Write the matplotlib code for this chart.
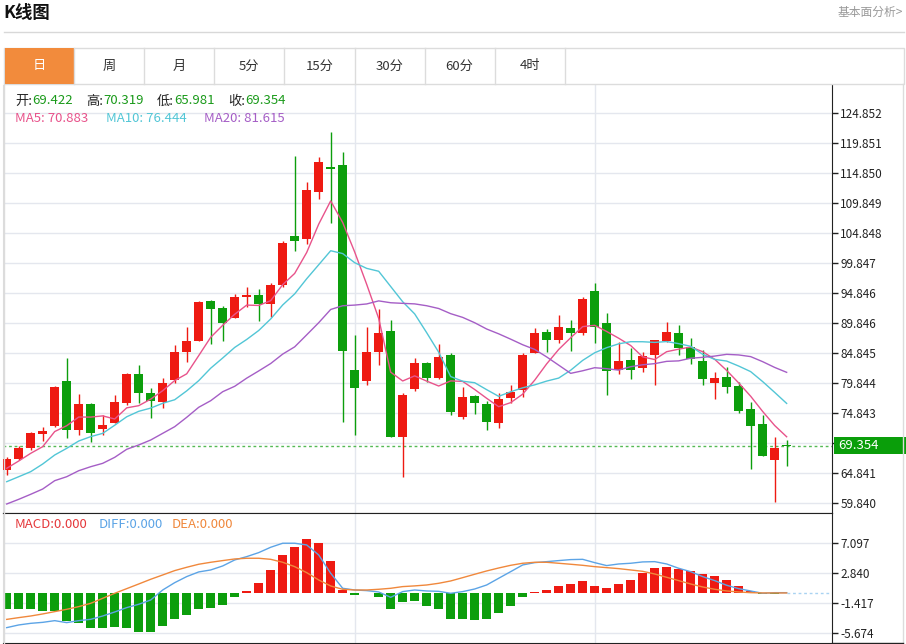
import matplotlib
matplotlib.use("Agg")
import matplotlib.pyplot as plt
from matplotlib.patches import Rectangle
from matplotlib.lines import Line2D
from matplotlib.transforms import blended_transform_factory

plt.rcParams['font.family'] = ['Noto Sans CJK SC', 'DejaVu Sans']

# daily candles
opens = [65.34, 67.17, 68.95, 71.34, 72.68, 80.18, 72.01, 76.34, 72.12, 73.22,
         76.56, 81.29, 78.23, 76.73, 80.34, 85.07, 86.89, 93.51, 92.29, 90.73,
         94.23, 94.56, 92.96, 96.18, 104.40, 103.85, 111.73, 115.90, 116.18, 82.01,
         80.18, 85.06, 88.56, 70.79, 78.89, 83.12, 80.62, 84.46, 74.23, 77.68,
         76.29, 73.13, 77.29, 78.68, 84.90, 88.29, 87.01, 88.96, 88.23, 95.23,
         89.89, 82.01, 83.68, 82.29, 84.51, 86.90, 88.13, 85.79, 83.56, 79.89,
         80.79, 79.34, 75.46, 73.01, 67.01, 69.422]
highs = [67.56, 69.34, 71.60, 72.56, 79.34, 83.96, 78.01, 76.46, 74.51, 77.84,
         81.46, 82.79, 78.96, 80.62, 86.18, 89.13, 93.51, 93.68, 92.68, 94.63,
         95.79, 95.46, 96.56, 103.45, 117.68, 113.40, 117.47, 121.63, 118.40, 87.85,
         89.13, 92.13, 90.34, 78.12, 83.96, 83.39, 86.29, 84.79, 79.23, 77.84,
         76.85, 78.23, 79.51, 84.79, 88.96, 88.85, 91.18, 90.34, 94.23, 96.46,
         91.46, 86.73, 85.63, 85.06, 87.01, 90.06, 89.51, 87.29, 85.35, 81.73,
         82.46, 80.06, 76.73, 74.51, 70.79, 70.319]
lows = [64.50, 67.00, 68.70, 70.23, 72.46, 70.62, 71.17, 70.06, 71.17, 73.13,
        76.17, 76.46, 73.96, 75.62, 79.90, 83.39, 86.89, 86.34, 86.89, 90.60,
        92.56, 90.18, 90.90, 95.90, 101.90, 103.01, 110.50, 106.47, 73.39, 71.17,
        79.51, 82.84, 70.79, 64.12, 78.56, 80.06, 80.45, 74.51, 73.79, 74.68,
        72.01, 72.29, 76.56, 77.56, 84.79, 84.96, 86.56, 85.23, 87.85, 86.56,
        77.84, 81.34, 80.45, 81.73, 79.51, 86.62, 84.51, 82.96, 79.51, 77.13,
        78.23, 74.90, 65.45, 67.72, 60.00, 65.981]
closes = [67.17, 69.06, 71.46, 71.84, 79.23, 72.01, 76.29, 71.45, 72.84, 76.62,
          81.29, 78.12, 76.89, 79.89, 85.06, 86.89, 93.29, 92.18, 89.89, 94.23,
          94.56, 93.01, 96.18, 103.23, 103.57, 112.01, 116.63, 115.57, 85.23, 78.96,
          85.06, 88.23, 70.79, 77.84, 83.23, 80.73, 84.13, 75.01, 77.46, 76.46,
          73.39, 77.13, 78.39, 84.51, 88.13, 87.01, 89.13, 88.13, 93.79, 89.23,
          81.89, 83.51, 82.01, 84.35, 87.01, 88.40, 85.63, 83.79, 80.45, 80.73,
          79.12, 75.23, 72.68, 67.72, 69.06, 69.354]

ma5 = [65.62, 66.84, 68.12, 69.23, 71.75, 72.72, 74.17, 74.16, 74.36, 73.84,
       75.70, 76.06, 77.15, 78.56, 80.25, 81.37, 84.40, 87.46, 89.46, 91.30,
       92.83, 92.77, 93.57, 96.24, 98.11, 101.60, 106.32, 110.20, 106.60, 101.68,
       96.29, 90.61, 81.65, 80.18, 81.03, 80.16, 79.34, 80.19, 80.11, 78.76,
       77.29, 75.89, 76.57, 77.98, 80.31, 83.03, 85.43, 87.38, 89.24, 89.46,
       88.43, 87.31, 86.09, 84.20, 83.75, 85.06, 85.48, 85.84, 85.06, 83.80,
       81.94, 79.86, 77.64, 75.10, 72.76, 70.88]
ma10 = [63.39, 64.22, 65.06, 66.34, 67.84, 68.95, 70.17, 70.90, 71.45, 72.80,
        74.21, 75.12, 75.66, 76.46, 77.05, 78.53, 80.23, 82.31, 84.01, 85.77,
        87.10, 88.59, 90.52, 92.85, 94.70, 97.22, 99.55, 101.89, 101.42, 99.90,
        98.95, 98.47, 95.93, 93.39, 91.36, 88.23, 84.98, 80.92, 80.14, 79.89,
        78.73, 77.62, 78.38, 79.04, 79.53, 80.16, 80.66, 81.97, 83.61, 84.88,
        85.73, 86.37, 86.73, 86.72, 86.61, 86.75, 86.40, 85.96, 84.63, 83.78,
        83.50, 82.67, 81.74, 80.08, 78.28, 76.44]
ma20 = [59.67, 60.45, 61.29, 62.17, 63.56, 64.22, 65.22, 65.89, 66.45, 67.45,
        68.79, 69.51, 70.34, 71.45, 72.56, 74.12, 75.79, 76.89, 78.39, 79.29,
        80.65, 81.85, 83.09, 84.66, 85.87, 87.87, 89.89, 92.10, 92.72, 92.83,
        93.02, 93.53, 93.22, 93.12, 93.03, 92.72, 92.26, 91.40, 90.78, 89.89,
        88.84, 88.04, 87.15, 86.22, 85.44, 84.19, 82.82, 81.45, 81.88, 82.39,
        82.23, 81.99, 82.56, 82.88, 83.07, 83.45, 83.53, 83.97, 84.12, 84.33,
        84.62, 84.52, 84.24, 83.40, 82.44, 81.62]

macd = [-2.27, -2.27, -2.22, -2.46, -2.51, -3.88, -4.16, -4.97, -4.97, -4.82,
        -4.87, -5.44, -5.44, -4.64, -3.69, -3.03, -2.22, -2.13, -1.70, -0.57,
        0.28, 1.47, 3.36, 5.39, 6.57, 7.71, 7.10, 4.64, 0.43, -0.19,
        0.10, -0.52, -2.27, -1.28, -1.04, -1.80, -2.27, -3.59, -3.59, -3.78,
        -3.69, -2.74, -1.80, -0.52, 0.19, 0.52, 1.04, 1.37, 1.80, 1.09,
        0.71, 1.37, 1.94, 2.89, 3.55, 3.74, 3.45, 3.12, 2.79, 2.46,
        1.89, 0.99, 0.38, -0.09, -0.03, 0.0]
diff = [-4.87, -4.49, -4.26, -4.12, -3.88, -4.16, -3.88, -3.69, -3.22, -2.65,
        -2.03, -1.56, -0.95, 0.47, 1.51, 2.37, 3.03, 3.31, 3.88, 4.73,
        5.20, 5.77, 6.53, 7.10, 7.10, 6.86, 5.44, 2.84, 0.71, 0.47,
        0.38, 0.19, -0.57, 0.24, 0.47, 0.33, 0.28, 0.00, 0.24, 0.61,
        1.18, 2.13, 3.07, 4.02, 4.35, 4.49, 4.64, 4.78, 4.82, 4.35,
        3.93, 4.16, 4.26, 4.45, 4.49, 4.16, 3.55, 3.07, 2.37, 1.80,
        1.14, 0.66, 0.33, 0.00, 0.09, 0.09]
dea = [-3.70, -3.45, -3.22, -2.93, -2.60, -2.27, -1.89, -1.42, -0.71, 0.00,
       0.66, 1.32, 1.99, 2.60, 3.22, 3.69, 4.12, 4.40, 4.64, 4.87,
       4.97, 4.97, 4.82, 4.40, 3.78, 2.93, 1.89, 1.04, 0.57, 0.47,
       0.47, 0.57, 0.71, 0.95, 1.05, 1.18, 1.42, 1.75, 2.22, 2.70,
       3.17, 3.59, 3.97, 4.26, 4.40, 4.40, 4.26, 4.12, 3.97, 3.78,
       3.64, 3.50, 3.31, 3.12, 2.74, 2.27, 1.80, 1.32, 0.90, 0.57,
       0.33, 0.19, 0.09, 0.05, 0.05, 0.05]

price_ticks = [124.852, 119.851, 114.850, 109.849, 104.848, 99.847, 94.846,
               89.846, 84.845, 79.844, 74.843, 69.842, 64.841, 59.840]
macd_ticks = [7.097, 2.840, -1.417, -5.674]
month_marks = [29, 49]
tabs = ['日', '周', '月', '5分', '15分', '30分', '60分', '4时']
ohlc_names = ['开', '高', '低', '收']
ohlc_last = ['69.422', '70.319', '65.981', '69.354']
ma_names = ['MA5', 'MA10', 'MA20']
ma_last = ['70.883', '76.444', '81.615']

RED = '#ee1a12'
GREEN = '#0c9e0c'
C_MA5 = '#e8538b'
C_MA10 = '#52c6d6'
C_MA20 = '#a55ec6'
C_DIFF = '#5ca4e6'
C_DEA = '#f0883c'
GRID = '#e4e7ee'

W, H = 906, 644
fig = plt.figure(figsize=(W / 100, H / 100), dpi=100)


def fx(px):
    return px / W


def fy(py):
    return 1 - py / H


# ---- header and tabs
fig.text(fx(3), fy(13), 'K线图', fontsize=12.5, fontweight='bold', va='center', color='#111')
fig.text(fx(903), fy(12), '基本面分析>', fontsize=8.5, ha='right', va='center', color='#999')
fig.add_artist(Line2D([fx(4), fx(904)], [fy(32), fy(32)], color='#d8d8d8', lw=1))
fig.add_artist(Rectangle((fx(4), fy(84)), fx(900), 36 / H, facecolor='none',
                         edgecolor='#dcdcdc', lw=1))
fig.add_artist(Rectangle((fx(4.5), fy(83.5)), fx(69), 35 / H, facecolor='#f28b3c',
                         edgecolor='none'))
tab_w = 70.1
for k, name in enumerate(tabs):
    left = 4 + k * tab_w
    fig.add_artist(Line2D([fx(left + tab_w)] * 2, [fy(48), fy(84)], color='#dcdcdc', lw=1))
    fig.text(fx(left + tab_w / 2), fy(66), name, fontsize=9.5, ha='center', va='center',
             color='white' if k == 0 else '#333')

# outer borders of the chart box
fig.add_artist(Line2D([fx(3.5)] * 2, [fy(84), fy(643)], color='#dcdcdc', lw=1))
fig.add_artist(Line2D([fx(903)] * 2, [fy(84), fy(643)], color='#dcdcdc', lw=1))
fig.add_artist(Line2D([fx(832), fx(903)], [fy(643), fy(643)], color='#222', lw=1))

xs = list(range(len(closes)))
xlim = (-0.31, 68.78)

# ---- price panel
ax = fig.add_axes([fx(3), fy(513), fx(829), 428 / H])
ax.set_xlim(*xlim)
ax.set_ylim(58.17, 129.52)
for t in price_ticks:
    ax.axhline(t, color=GRID, lw=1, zorder=0)
for m in month_marks:
    ax.axvline(m, color=GRID, lw=1, zorder=0)

for i in xs:
    up = closes[i] >= opens[i]
    col = RED if up else GREEN
    lo, hi = min(opens[i], closes[i]), max(opens[i], closes[i])
    ax.vlines(i, lows[i], highs[i], color=col, lw=1, zorder=2)
    ax.bar(i, max(hi - lo, 0.2), bottom=lo, width=0.72, color=col, lw=0, zorder=3)

ax.plot(xs, ma5, color=C_MA5, lw=1, zorder=4)
ax.plot(xs, ma10, color=C_MA10, lw=1, zorder=4)
ax.plot(xs, ma20, color=C_MA20, lw=1, zorder=4)

last = closes[-1]
ax.axhline(last, color='#55b955', lw=1, ls=(0, (2, 2)), zorder=1)

ax.yaxis.tick_right()
ax.set_yticks(price_ticks)
# the tick next to the last price sits under the price box
ax.set_yticklabels(['' if abs(t - last) < 2 else f'{t:.3f}' for t in price_ticks])
ax.tick_params(axis='y', length=4, width=1, pad=2, labelsize=8.5, colors='#222')
ax.set_xticks([])
ax.spines['top'].set_visible(False)
ax.spines['left'].set_color('#dcdcdc')
ax.spines['right'].set_color('#222')
ax.spines['bottom'].set_color('#222')

tr = blended_transform_factory(fig.transFigure, ax.transData)
fig.add_artist(Rectangle((fx(834), last - 1.42), fx(72), 2.85, transform=tr,
                         facecolor='#0a9e0a', edgecolor='none'))
fig.text(fx(838), last, f'{last:.3f}', transform=tr, fontsize=9.5, color='white',
         va='center')

# legend rows
ohlc_x = [15, 86, 157, 228]
for name, val, x0 in zip(ohlc_names, ohlc_last, ohlc_x):
    fig.text(fx(x0), fy(101), name + ':', fontsize=9.5, va='center', color='#222')
    fig.text(fx(x0 + 17), fy(101), val, fontsize=9.5, va='center', color='#1a9a1a')
ma_x = [15, 106, 204]
for name, val, x0, col in zip(ma_names, ma_last, ma_x, [C_MA5, C_MA10, C_MA20]):
    fig.text(fx(x0), fy(119), f'{name}: {val}', fontsize=9.5, va='center', color=col)

# ---- MACD panel
ax2 = fig.add_axes([fx(3), fy(643), fx(829), 130 / H])
ax2.set_xlim(*xlim)
ax2.set_ylim(-7.05, 11.39)
for t in macd_ticks:
    ax2.axhline(t, color=GRID, lw=1, zorder=0)
for m in month_marks:
    ax2.axvline(m, color=GRID, lw=1, zorder=0)
ax2.bar(xs, macd, width=0.72, color=[RED if v >= 0 else GREEN for v in macd], lw=0, zorder=2)
ax2.plot(xs, diff, color=C_DIFF, lw=1, zorder=3)
ax2.plot(xs, dea, color=C_DEA, lw=1, zorder=3)
ax2.plot([xs[-1], xlim[1]], [0, 0], color='#a9d3f2', lw=1, ls=(0, (2, 2)), zorder=1)

ax2.yaxis.tick_right()
ax2.set_yticks(macd_ticks)
ax2.set_yticklabels([f'{t:.3f}' for t in macd_ticks])
ax2.tick_params(axis='y', length=4, width=1, pad=2, labelsize=8.5, colors='#222')
ax2.set_xticks([])
ax2.spines['top'].set_color('#222')
ax2.spines['left'].set_color('#dcdcdc')
ax2.spines['right'].set_color('#222')
ax2.spines['bottom'].set_color('#222')

fig.text(fx(15), fy(525), 'MACD:0.000', fontsize=9.5, va='center', color='#e5383b')
fig.text(fx(99), fy(525), 'DIFF:0.000', fontsize=9.5, va='center', color=C_DIFF)
fig.text(fx(172), fy(525), 'DEA:0.000', fontsize=9.5, va='center', color=C_DEA)

fig.savefig('out.png', dpi=100, facecolor='white')
